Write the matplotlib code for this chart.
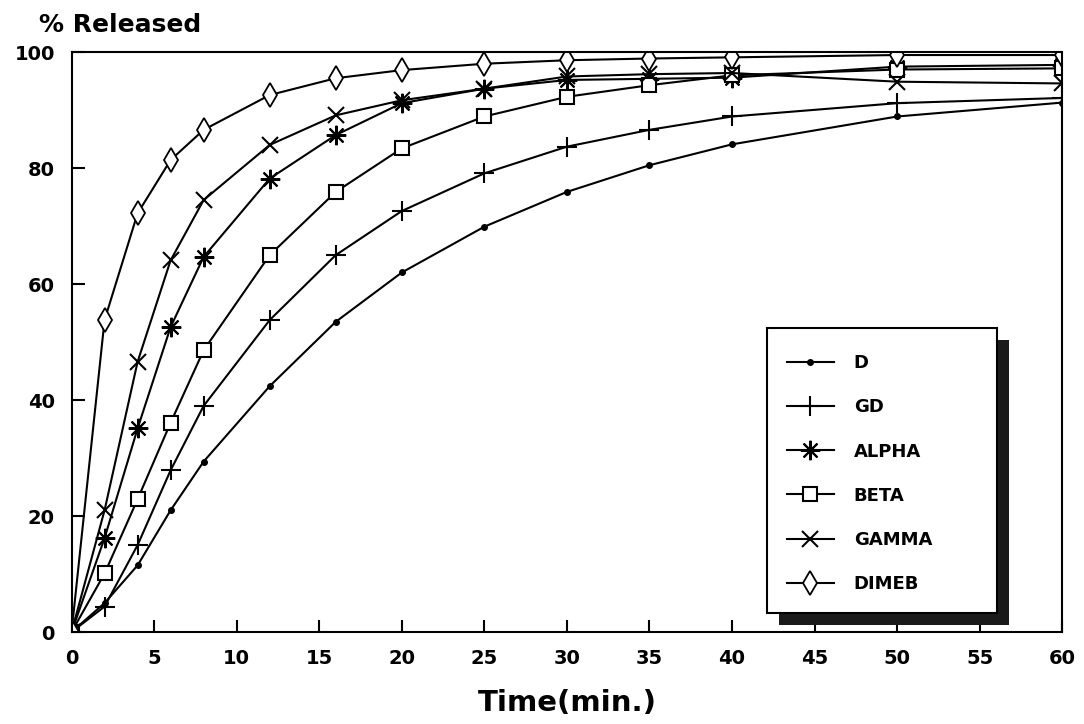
import matplotlib
matplotlib.use("Agg")
import matplotlib.pyplot as plt
import matplotlib.patches as mpatches

# sampling times (min)
time = [0, 2, 4, 6, 8, 12, 16, 20, 25, 30, 35, 40, 50, 60]

# % released
d_release = [0, 5, 11.5, 21, 29.4, 42.4, 53.5, 62, 69.9, 75.9, 80.5, 84.1, 88.9, 91.3]
gd_release = [0, 4.4, 15, 27.9, 39, 53.8, 65, 72.6, 79.1, 83.7, 86.6, 88.9, 91.2, 92.1]
alpha_release = [0, 16.2, 35.1, 52.6, 64.7, 78.2, 85.7, 91.2, 93.7, 95.2, 95.4, 95.6, 97.5, 97.8]
beta_release = [0, 10.1, 22.9, 36.1, 48.6, 65, 75.9, 83.4, 88.9, 92.3, 94.3, 96, 97, 97.2]
gamma_release = [0, 21, 46.6, 64.1, 74.5, 84, 89.1, 91.7, 93.7, 95.8, 96.2, 96.4, 94.9, 94.6]
dimeb_release = [0, 53.8, 72.2, 81.4, 86.6, 92.6, 95.5, 96.9, 98, 98.6, 98.9, 99.1, 99.5, 99.5]

series = [
    ("D", d_release, dict(marker="o", markersize=4, markerfacecolor="k")),
    ("GD", gd_release, dict(marker="+", markersize=15, markeredgewidth=1.5)),
    ("ALPHA", alpha_release, dict(marker=(8, 2, 0), markersize=14, markeredgewidth=1.5)),
    ("BETA", beta_release, dict(marker="s", markersize=10, markerfacecolor="white", markeredgewidth=1.5)),
    ("GAMMA", gamma_release, dict(marker="x", markersize=11, markeredgewidth=1.5)),
    ("DIMEB", dimeb_release, dict(marker="d", markersize=12, markerfacecolor="white", markeredgewidth=1.3)),
]

plt.rcParams["font.family"] = ["DejaVu Sans"]
plt.rcParams["font.weight"] = "bold"

fig = plt.figure(figsize=(10.84, 7.24), dpi=100)
ax = fig.add_axes([0.066, 0.127, 0.914, 0.801])

for name, values, style in series:
    ax.plot(time, values, color="k", linewidth=1.5, label=name, **style)

ax.set_xlim(0, 60)
ax.set_ylim(0, 100)
ax.set_xticks(range(0, 61, 5))
ax.set_yticks(range(0, 101, 20))
ax.tick_params(direction="in", length=9, width=1.5, labelsize=14, pad=12)
for label in ax.get_xticklabels() + ax.get_yticklabels():
    label.set_fontweight("bold")
for spine in ax.spines.values():
    spine.set_linewidth(1.5)

ax.set_xlabel("Time(min.)", fontsize=21, fontweight="bold", labelpad=15)
fig.text(0.036, 0.965, "% Released", fontsize=18, fontweight="bold", ha="left", va="center")

# legend box with a solid drop shadow, drawn by hand
box_x0, box_y0, box_w, box_h = 0.702, 0.033, 0.232, 0.491
shadow = mpatches.Rectangle((box_x0 + 0.012, box_y0 - 0.021), box_w, box_h, transform=ax.transAxes,
                            facecolor="#1a1a1a", edgecolor="none", zorder=5, clip_on=False)
box = mpatches.Rectangle((box_x0, box_y0), box_w, box_h, transform=ax.transAxes,
                         facecolor="white", edgecolor="k", linewidth=1.5, zorder=6, clip_on=False)
ax.add_patch(shadow)
ax.add_patch(box)

leg = ax.legend(loc="upper left", bbox_to_anchor=(box_x0 + 0.02, box_y0 + box_h - 0.045), frameon=False,
                fontsize=13, handlelength=2.6, borderpad=0, labelspacing=1.45,
                handletextpad=1.1, borderaxespad=0)
leg.set_zorder(7)
for text in leg.get_texts():
    text.set_fontweight("bold")

fig.savefig("out.png", dpi=100)
